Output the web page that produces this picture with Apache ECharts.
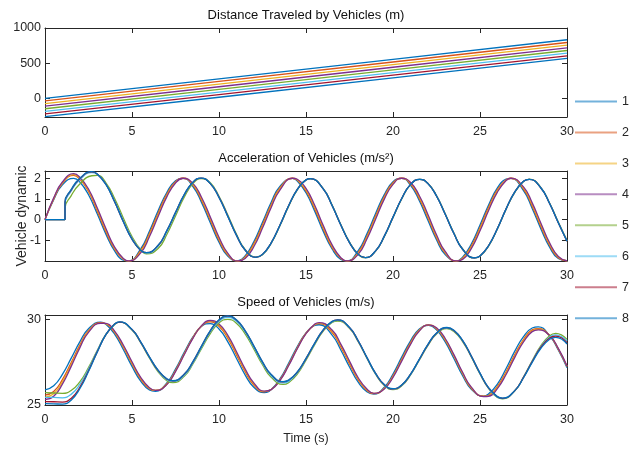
<!DOCTYPE html>
<html><head><meta charset="utf-8">
<script src="https://cdn.jsdelivr.net/npm/echarts@6/dist/echarts.min.js"></script>
<style>html,body{margin:0;padding:0;background:#fff}#c{width:642px;height:449px}</style>
</head><body><div id="c"></div>
<script>
const vehicles = ['1','2','3','4','5','6','7','8'];
const colors = ['#0072BD','#D95319','#EDB120','#7E2F8E','#77AC30','#4DBEEE','#A2142F','#0072BD'];

const xTicks = [0,5,10,15,20,25,30];
const distTicks = [0,500,1000];
const accTicks = [-1,0,1,2];
const spdTicks = [25,30];

// sample times
const distTime = [0,10,20,30];
const timeAccA = [0,0.5,1,1.65,2,2.5,3,3.5,4,4.5,4.8,5.5,6,6.5,7,7.5,7.93,8.5,9,9.5,10,10.5,11.07,11.5,12,12.5,13,13.5,14.22,14.5,15,15.5,16,16.5,17,17.36,18,18.5,19,19.5,20,20.5,21,21.5,22,22.5,23,23.64,24,24.5,25,25.5,26,26.5,26.78,27.5,28,28.5,29,29.5,30];
const timeAccB = [0,0.5,1,1.15,1.15,1.5,2,2.69,3,3.5,4,4.5,5,5.5,5.83,6.5,7,7.5,8,8.5,8.97,9.5,10,10.5,11,11.5,12.12,12.5,13,13.5,14,14.5,15,15.26,16,16.5,17,17.5,18,18.4,19,19.5,20,20.5,21,21.54,22,22.5,23,23.5,24,24.68,25,25.5,26,26.5,27,27.5,27.83,28.5,29,29.5,30];
const timeSpdA = [0,0.5,1,1.5,2,2.5,3.2,3.5,4,4.5,5,5.5,6,6.35,7,7.5,8,8.5,9,9.5,10,10.5,11,11.5,12,12.6,13,13.5,14,14.5,15,15.5,15.75,16.5,17,17.5,18,18.5,18.9,19.5,20,20.5,21,21.5,22.05,22.5,23,23.5,24,24.5,25.2,25.5,26,26.5,27,27.5,28,28.35,29,29.5,30];
const timeSpdB = [0,0.5,1,1.5,2,2.5,3,3.5,4,4.28,5,5.5,6,6.5,7,7.35,8,8.5,9,9.5,10,10.5,11,11.5,12,12.5,13,13.68,14,14.5,15,15.5,16,16.5,16.82,17.5,18,18.5,19,19.5,20,20.5,21,21.5,22,22.5,23.1,23.5,24,24.5,25,25.5,26,26.3,27,27.5,28,28.5,29,29.35,30];

// Distance traveled (m)
const dist1 = [0,278,555,833];
const dist2 = [-37,240,517,794];
const dist3 = [-74,203,479,756];
const dist4 = [-111,165,442,718];
const dist5 = [-148,127,404,680];
const dist6 = [-185,90,366,642];
const dist7 = [-222,53,329,605];
const dist8 = [-259,16,292,567];

// Acceleration (m/s^2): vehicles 1-4 on timeAccA, 5-8 on timeAccB
const acc1 = [0,0.96,1.68,1.99,1.82,1.2,0.28,-0.7,-1.51,-1.96,-1.99,-1.41,-0.56,0.43,1.31,1.88,1.99,1.6,0.82,-0.15,-1.09,-1.76,-1.99,-1.75,-1.07,-0.13,0.84,1.61,1.99,1.87,1.3,0.41,-0.58,-1.42,-1.92,-1.99,-1.5,-0.69,0.3,1.21,1.83,1.99,1.67,0.94,-0.02,-0.97,-1.69,-1.99,-1.81,-1.18,-0.26,0.72,1.53,1.96,1.99,1.4,0.54,-0.45,-1.33,-1.88,-1.98];
const acc2 = [0,1.0,1.75,2.14,1.96,1.36,0.42,-0.58,-1.42,-1.92,-2.0,-1.49,-0.67,0.31,1.22,1.83,2.0,1.67,0.93,-0.03,-0.99,-1.7,-2.0,-1.8,-1.17,-0.25,0.73,1.53,2.0,1.91,1.39,0.53,-0.46,-1.34,-1.88,-2.0,-1.58,-0.8,0.18,1.11,1.78,2.0,1.73,1.04,0.1,-0.87,-1.62,-2.0,-1.86,-1.28,-0.38,0.61,1.45,1.93,2.0,1.48,0.65,-0.33,-1.24,-1.84,-1.99];
const acc3 = [0,1.02,1.78,2.17,2.0,1.42,0.5,-0.5,-1.38,-1.9,-2.0,-1.55,-0.75,0.23,1.16,1.8,2.0,1.71,1.0,0.05,-0.92,-1.66,-2.0,-1.84,-1.24,-0.33,0.66,1.48,2.0,1.93,1.45,0.61,-0.38,-1.28,-1.86,-2.0,-1.63,-0.87,0.1,1.05,1.74,2.0,1.77,1.11,0.18,-0.8,-1.58,-2.0,-1.89,-1.34,-0.46,0.53,1.39,1.91,2.0,1.53,0.73,-0.25,-1.18,-1.81,-2.0];
const acc4 = [0,1.05,1.82,2.22,2.05,1.48,0.57,-0.43,-1.33,-1.88,-2.0,-1.61,-0.83,0.15,1.1,1.77,2.0,1.75,1.07,0.13,-0.85,-1.62,-2.0,-1.88,-1.31,-0.41,0.59,1.43,2.0,1.95,1.51,0.69,-0.3,-1.22,-1.84,-2.0,-1.68,-0.94,0.02,0.99,1.7,2.0,1.81,1.18,0.26,-0.73,-1.54,-2.0,-1.92,-1.4,-0.54,0.45,1.33,1.89,2.0,1.58,0.81,-0.17,-1.12,-1.78,-2.0];
const acc5 = [0,0,0,0,0.55,1.15,1.72,2.12,2.14,1.78,1.02,0.08,-0.82,-1.45,-1.66,-1.40,-0.72,0.18,1.08,1.74,1.98,1.78,1.13,0.24,-0.70,-1.44,-1.80,-1.70,-1.14,-0.30,0.64,1.44,1.92,1.97,1.49,0.70,-0.24,-1.09,-1.67,-1.84,-1.52,-0.82,0.10,1.00,1.68,1.95,1.76,1.16,0.28,-0.65,-1.42,-1.85,-1.77,-1.27,-0.45,0.50,1.32,1.84,1.96,1.55,0.80,-0.12,-1.01];
const acc6 = [0,0,0,0,0.75,1.38,1.93,2.27,2.20,1.72,0.90,-0.05,-0.90,-1.47,-1.62,-1.28,-0.58,0.30,1.18,1.79,2.01,1.75,1.09,0.19,-0.74,-1.46,-1.81,-1.69,-1.13,-0.28,0.66,1.45,1.92,1.97,1.48,0.69,-0.25,-1.10,-1.68,-1.84,-1.51,-0.81,0.11,1.01,1.69,1.95,1.75,1.15,0.27,-0.66,-1.43,-1.85,-1.76,-1.26,-0.44,0.51,1.33,1.85,1.95,1.54,0.79,-0.14,-1.03];
const acc7 = [0,0,0,0,0.85,1.43,1.98,2.31,2.21,1.71,0.87,-0.09,-0.94,-1.49,-1.60,-1.25,-0.54,0.34,1.20,1.80,2.01,1.74,1.08,0.18,-0.75,-1.47,-1.82,-1.68,-1.12,-0.27,0.67,1.46,1.92,1.98,1.47,0.68,-0.26,-1.11,-1.68,-1.84,-1.51,-0.80,0.12,1.02,1.69,1.95,1.75,1.14,0.26,-0.67,-1.43,-1.85,-1.76,-1.25,-0.43,0.52,1.34,1.85,1.95,1.53,0.78,-0.15,-1.04];
const acc8 = [0,0,0,0,0.85,1.45,2.0,2.32,2.21,1.70,0.86,-0.10,-0.95,-1.49,-1.60,-1.24,-0.53,0.35,1.21,1.81,2.01,1.74,1.07,0.17,-0.75,-1.47,-1.82,-1.68,-1.12,-0.27,0.67,1.46,1.92,1.98,1.47,0.68,-0.26,-1.11,-1.68,-1.84,-1.51,-0.80,0.12,1.02,1.69,1.95,1.75,1.14,0.26,-0.67,-1.43,-1.85,-1.76,-1.25,-0.43,0.52,1.34,1.85,1.95,1.53,0.78,-0.15,-1.04];

// Speed (m/s): vehicles 1-4 on timeSpdA, 5-8 on timeSpdB
const spd1 = [25.88,26.12,26.79,27.72,28.68,29.45,29.84,29.71,29.14,28.24,27.25,26.39,25.88,25.80,26.28,27.09,28.07,28.97,29.59,29.75,29.43,28.70,27.73,26.76,26.04,25.72,25.90,26.52,27.43,28.41,29.21,29.64,29.68,29.08,28.21,27.22,26.33,25.77,25.64,26.04,26.81,27.79,28.73,29.42,29.65,29.38,28.68,27.71,26.71,25.92,25.51,25.65,26.22,27.13,28.14,28.99,29.49,29.56,29.04,28.21,27.18];
const spd2 = [25.58,25.79,26.48,27.46,28.49,29.34,29.80,29.74,29.23,28.38,27.40,26.51,25.95,25.85,26.23,27.01,27.99,28.93,29.61,29.85,29.59,28.90,27.94,26.95,26.17,25.77,25.90,26.46,27.35,28.34,29.19,29.68,29.75,29.23,28.39,27.40,26.47,25.85,25.66,25.98,26.70,27.66,28.62,29.36,29.66,29.44,28.79,27.84,26.82,25.98,25.51,25.57,26.08,26.94,27.94,28.82,29.38,29.46,29.05,28.26,27.24];
const spd3 = [25.45,25.65,26.35,27.35,28.41,29.29,29.78,29.75,29.27,28.44,27.46,26.56,25.98,25.85,26.21,26.98,27.96,28.91,29.62,29.89,29.66,28.99,28.03,27.03,26.23,25.79,25.90,26.44,27.32,28.31,29.18,29.70,29.78,29.30,28.47,27.48,26.53,25.89,25.67,25.96,26.66,27.61,28.57,29.33,29.67,29.47,28.83,27.89,26.86,26.01,25.50,25.54,26.02,26.86,27.86,28.75,29.33,29.42,29.05,28.28,27.26];
const spd4 = [25.32,25.51,26.22,27.24,28.33,29.24,29.77,29.76,29.31,28.50,27.52,26.61,26.01,25.85,26.19,26.95,27.93,28.89,29.63,29.93,29.73,29.08,28.12,27.11,26.29,25.81,25.90,26.42,27.29,28.28,29.17,29.72,29.81,29.37,28.55,27.56,26.59,25.93,25.68,25.94,26.61,27.56,28.52,29.30,29.67,29.50,28.88,27.94,26.91,26.04,25.49,25.51,25.96,26.78,27.78,28.68,29.28,29.38,29.05,28.30,27.28];
const spd5 = [25.72,25.70,25.68,25.85,26.35,27.18,28.18,29.12,29.70,29.83,29.38,28.63,27.74,26.94,26.42,26.30,26.67,27.39,28.30,29.17,29.79,30.00,29.77,29.15,28.27,27.35,26.62,26.20,26.30,26.80,27.61,28.52,29.32,29.81,29.90,29.47,28.69,27.73,26.80,26.14,25.90,26.12,26.74,27.60,28.46,29.14,29.45,29.29,28.70,27.80,26.81,25.95,25.44,25.36,25.83,26.63,27.58,28.46,29.04,29.18,28.83];
const spd6 = [25.45,25.44,25.42,25.62,26.20,27.10,28.15,29.12,29.72,29.84,29.39,28.65,27.78,26.99,26.48,26.37,26.73,27.45,28.37,29.26,29.88,30.11,29.89,29.26,28.37,27.44,26.71,26.29,26.38,26.87,27.67,28.57,29.37,29.85,29.94,29.50,28.72,27.75,26.82,26.16,25.92,26.14,26.76,27.62,28.49,29.17,29.49,29.33,28.74,27.83,26.83,25.97,25.46,25.38,25.84,26.62,27.55,28.40,28.96,29.09,28.72];
const spd7 = [25.20,25.19,25.17,25.38,26.03,27.00,28.10,29.10,29.72,29.84,29.40,28.67,27.80,27.02,26.52,26.41,26.79,27.52,28.44,29.33,29.96,30.18,29.96,29.33,28.44,27.51,26.77,26.35,26.44,26.92,27.71,28.60,29.39,29.87,29.96,29.52,28.74,27.77,26.84,26.18,25.94,26.16,26.78,27.64,28.51,29.19,29.51,29.35,28.76,27.85,26.85,25.99,25.48,25.39,25.84,26.61,27.53,28.37,28.91,29.02,28.63];
const spd8 = [25.08,25.07,25.05,25.28,25.95,26.95,28.08,29.10,29.72,29.85,29.41,28.68,27.81,27.03,26.53,26.42,26.80,27.53,28.45,29.34,29.97,30.20,29.97,29.34,28.45,27.52,26.78,26.36,26.45,26.93,27.72,28.61,29.40,29.88,29.97,29.53,28.75,27.78,26.85,26.19,25.95,26.17,26.79,27.65,28.52,29.20,29.52,29.36,28.77,27.86,26.86,26.00,25.49,25.40,25.84,26.59,27.49,28.31,28.84,28.95,28.56];

const distAll = [dist1,dist2,dist3,dist4,dist5,dist6,dist7,dist8];
const accAll = [acc1,acc2,acc3,acc4,acc5,acc6,acc7,acc8];
const accTimes = [timeAccA,timeAccA,timeAccA,timeAccA,timeAccB,timeAccB,timeAccB,timeAccB];
const spdAll = [spd1,spd2,spd3,spd4,spd5,spd6,spd7,spd8];
const spdTimes = [timeSpdA,timeSpdA,timeSpdA,timeSpdA,timeSpdB,timeSpdB,timeSpdB,timeSpdB];

const FONT = '"Liberation Sans", Arial, Helvetica, sans-serif';
const AX = '#262626';
const pairs = (xs, ys) => xs.map((x, i) => [x, ys[i]]);

const grids = [
  {left: 45, top: 28, width: 522, height: 89},
  {left: 45, top: 171, width: 522, height: 90},
  {left: 45, top: 315, width: 522, height: 90}
];
const yCfg = [
  {min: -265, max: 1000, ticks: distTicks},
  {min: -2, max: 2.35, ticks: accTicks},
  {min: 25, max: 30.25, ticks: spdTicks}
];

const xAxes = [], yAxes = [];
grids.forEach((g, i) => {
  const common = {gridIndex: i, type: 'value', min: 0, max: 30, interval: 5,
    splitLine: {show: false},
    axisLine: {show: true, onZero: false, lineStyle: {color: AX, width: 1}},
    axisTick: {show: true, inside: true, length: 5, lineStyle: {color: AX}}};
  xAxes.push(Object.assign({}, common, {position: 'bottom',
    axisLabel: {show: true, color: AX, fontSize: 12.5, fontFamily: FONT, margin: 8,
      customValues: xTicks, formatter: v => String(v)},
    name: i === 2 ? 'Time (s)' : '', nameLocation: 'middle', nameGap: 27,
    nameTextStyle: {color: AX, fontSize: 12.5, fontFamily: FONT}}));
  xAxes.push(Object.assign({}, common, {position: 'top', axisLabel: {show: false}}));
  const yc = yCfg[i];
  const ycommon = {gridIndex: i, type: 'value', min: yc.min, max: yc.max,
    splitLine: {show: false},
    axisLine: {show: true, onZero: false, lineStyle: {color: AX, width: 1}},
    axisTick: {show: true, inside: true, length: 5, lineStyle: {color: AX}, customValues: yc.ticks}};
  yAxes.push(Object.assign({}, ycommon, {position: 'left',
    axisLabel: {show: true, color: AX, fontSize: 12.5, fontFamily: FONT, margin: 4,
      customValues: yc.ticks, formatter: v => String(v)}}));
  yAxes.push(Object.assign({}, ycommon, {position: 'right', axisLabel: {show: false}}));
});

const series = [];
const lineBase = (k) => ({symbol: 'none', showSymbol: false, color: colors[k],
  lineStyle: {width: 1.3, color: colors[k]}, z: 2 + k});
vehicles.forEach((v, k) => {
  series.push(Object.assign({type: 'line', name: v, xAxisIndex: 0, yAxisIndex: 0,
    data: pairs(distTime, distAll[k])}, lineBase(k)));
});
vehicles.forEach((v, k) => {
  series.push(Object.assign({type: 'line', name: v, xAxisIndex: 2, yAxisIndex: 2,
    data: pairs(accTimes[k], accAll[k]), smooth: 0.5}, lineBase(k)));
});
vehicles.forEach((v, k) => {
  series.push(Object.assign({type: 'line', name: v, xAxisIndex: 4, yAxisIndex: 4,
    data: pairs(spdTimes[k], spdAll[k]), smooth: 0.5}, lineBase(k)));
});

const legends = vehicles.map((v, k) => ({
  data: [v], orient: 'vertical', left: 575, top: 101 + 30.95 * k - 6, padding: 0,
  icon: 'rect', itemWidth: 42, itemHeight: 2, selectedMode: false,
  itemStyle: {opacity: 0.55},
  textStyle: {color: AX, fontSize: 12.5, fontFamily: FONT}
}));

const titleStyle = {fontSize: 13, fontWeight: 'normal', color: '#111', fontFamily: FONT};
const option = {
  animation: false,
  backgroundColor: '#ffffff',
  title: [
    {text: 'Distance Traveled by Vehicles (m)', left: 306, top: 9, textAlign: 'center', padding: 0, textStyle: titleStyle},
    {text: 'Acceleration of Vehicles (m/s²)', left: 306, top: 152, textAlign: 'center', padding: 0, textStyle: titleStyle},
    {text: 'Speed of Vehicles (m/s)', left: 306, top: 296, textAlign: 'center', padding: 0, textStyle: titleStyle}
  ],
  legend: legends,
  grid: grids,
  xAxis: xAxes,
  yAxis: yAxes,
  series: series,
  graphic: [{type: 'text', x: 22, y: 216, rotation: Math.PI / 2,
    style: {text: 'Vehicle dynamic', fill: AX, font: '14px ' + FONT, textAlign: 'center', textVerticalAlign: 'middle'}}]
};
const chart = echarts.init(document.getElementById('c'), null, {renderer: 'canvas'});
chart.setOption(option);
</script>
</body></html>
